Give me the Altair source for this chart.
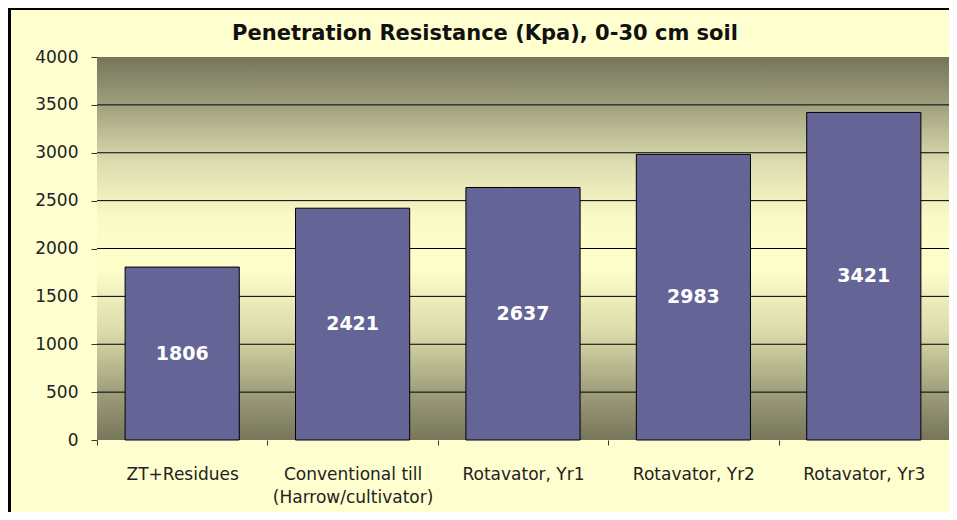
import altair as alt
import pandas as pd

categories = ["ZT+Residues", "Conventional till\n(Harrow/cultivator)", "Rotavator, Yr1",
              "Rotavator, Yr2", "Rotavator, Yr3"]
values = [1806, 2421, 2637, 2983, 3421]
grid_values = [500, 1000, 1500, 2000, 2500, 3000, 3500]
tick_values = [0, 500, 1000, 1500, 2000, 2500, 3000, 3500, 4000]
y_max = 4000

W, H = 852, 383
BAR = "#646496"
BG = "#FFFECE"

df = pd.DataFrame({"cat": categories, "val": values})
grid_df = pd.DataFrame({"v": grid_values})
bg_df = pd.DataFrame({"top": [y_max], "bottom": [0]})

yscale = alt.Scale(domain=[0, y_max], nice=False)
xscale = alt.Scale(paddingInner=0.33, paddingOuter=0.165)
step = W / 5.0

grad = alt.LinearGradient(
    gradient="linear", x1=0, y1=0, x2=0, y2=1,
    stops=[
        alt.GradientStop(offset=0.0, color="#75755A"),
        alt.GradientStop(offset=0.12, color="#9E9E7C"),
        alt.GradientStop(offset=0.28, color="#DDDDB0"),
        alt.GradientStop(offset=0.42, color="#FAFAC7"),
        alt.GradientStop(offset=0.55, color="#FFFFCC"),
        alt.GradientStop(offset=0.72, color="#DADAAA"),
        alt.GradientStop(offset=0.88, color="#9C9C7A"),
        alt.GradientStop(offset=1.0, color="#77765A"),
    ],
)

background = alt.Chart(bg_df).mark_rect(fill=grad).encode(
    y=alt.Y("top:Q", scale=yscale),
    y2="bottom:Q",
    x=alt.value(0),
    x2=alt.value(W),
)

grid = alt.Chart(grid_df).mark_rule(color="black", strokeWidth=1).encode(
    y=alt.Y("v:Q", scale=yscale)
)

bars = alt.Chart(df).mark_bar(color=BAR, stroke="black", strokeWidth=1).encode(
    x=alt.X("cat:N", sort=categories, scale=xscale, title=None,
            axis=alt.Axis(labelAngle=0, domain=False, tickColor="#333", tickSize=5,
                          tickOffset=-step / 2, labelOffset=step / 2,
                          labelExpr="split(datum.label, '\\n')",
                          labelFont="DejaVu Sans", labelFontSize=17, labelColor="#222",
                          labelLineHeight=23, labelPadding=21, labelBaseline="top")),
    y=alt.Y("val:Q", scale=yscale, title=None,
            axis=alt.Axis(values=tick_values, grid=False, domainColor="#555", format="d",
                          tickColor="#333", tickSize=6, labelPadding=13,
                          labelFont="DejaVu Sans", labelFontSize=17, labelColor="#222")),
)

labels = alt.Chart(df).transform_calculate(mid="datum.val / 2").mark_text(
    color="white", font="DejaVu Sans", fontWeight="bold", fontSize=19, baseline="middle"
).encode(
    x=alt.X("cat:N", sort=categories, scale=xscale),
    y=alt.Y("mid:Q", scale=yscale),
    text=alt.Text("val:Q", format="d"),
)

frame_left = alt.Chart(bg_df).mark_rule(color="black", strokeWidth=3).encode(
    x=alt.value(-87.5), y=alt.value(-49), y2=alt.value(H + 80)
)
frame_top = alt.Chart(bg_df).mark_rule(color="black", strokeWidth=2).encode(
    y=alt.value(-48), x=alt.value(-89), x2=alt.value(W + 10)
)

chart = alt.layer(background, grid, bars, labels, frame_left, frame_top).properties(
    width=W, height=H,
    title=alt.TitleParams("Penetration Resistance (Kpa), 0-30 cm soil",
                          font="DejaVu Sans", fontSize=21, fontWeight="bold",
                          color="#111", anchor="middle", offset=0, dx=-38, dy=37),
    autosize=alt.AutoSizeParams(type="none"),
    padding={"left": 89, "top": 49, "right": 0, "bottom": 72},
    background=BG,
).configure_view(stroke=None)

chart.save("out.html", embed_options={"renderer": "svg", "actions": False})
